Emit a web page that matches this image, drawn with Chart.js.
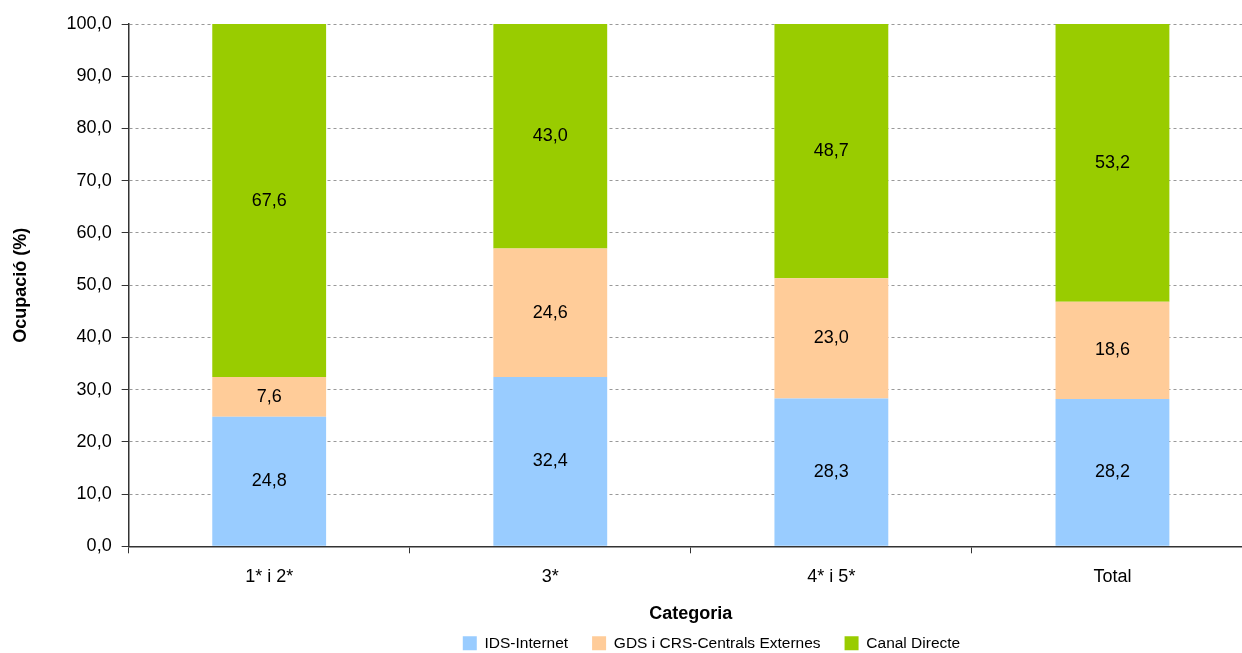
<!DOCTYPE html>
<html>
<head>
<meta charset="utf-8">
<script src="https://cdn.jsdelivr.net/npm/chart.js@4/dist/chart.umd.min.js"></script>
<style>
  html, body { margin: 0; padding: 0; background: #fff; overflow: hidden; }
  canvas { display: block; }
</style>
</head>
<body>
<canvas id="chart" width="1254" height="653" style="width:1254px;height:653px"></canvas>
<script>
// Chart data
const categories = ["1* i 2*", "3*", "4* i 5*", "Total"];
const idsInternet = [24.8, 32.4, 28.3, 28.2];
const gdsCrs = [7.6, 24.6, 23.0, 18.6];
const canalDirecte = [67.6, 43.0, 48.7, 53.2];

const FONT = "'Liberation Sans', Arial, sans-serif";
const fmt = (v) => v.toFixed(1).replace(".", ",");

// Draw the value in the middle of each segment
const segmentLabels = {
  id: "segmentLabels",
  afterDatasetsDraw(chart) {
    const ctx = chart.ctx;
    ctx.save();
    ctx.font = "18px " + FONT;
    ctx.fillStyle = "#000";
    ctx.textAlign = "center";
    ctx.textBaseline = "middle";
    chart.data.datasets.forEach((ds, i) => {
      chart.getDatasetMeta(i).data.forEach((bar, j) => {
        ctx.fillText(fmt(ds.data[j]), bar.x, (bar.y + bar.base) / 2);
      });
    });
    ctx.restore();
  }
};

// Legend sits a bit right of the canvas centre in the original
const legendShift = {
  id: "legendShift",
  afterLayout(chart) {
    chart.legend.left += 82;
    chart.legend.right += 82;
  }
};

const ctx = document.getElementById("chart").getContext("2d");
new Chart(ctx, {
  type: "bar",
  data: {
    labels: categories,
    datasets: [
      { label: "IDS-Internet", data: idsInternet, backgroundColor: "#99ccff" },
      { label: "GDS i CRS-Centrals Externes", data: gdsCrs, backgroundColor: "#ffcc99" },
      { label: "Canal Directe", data: canalDirecte, backgroundColor: "#99cc00" }
    ]
  },
  options: {
    responsive: false,
    animation: false,
    layout: { padding: { top: 24, left: 6, right: 1, bottom: -8 } },
    datasets: {
      bar: { barPercentage: 0.405, categoryPercentage: 1 }
    },
    plugins: {
      legend: {
        position: "bottom",
        labels: {
          boxWidth: 14,
          boxHeight: 14,
          padding: 24,
          color: "#000",
          font: { family: FONT, size: 15.5 }
        }
      },
      tooltip: { enabled: false }
    },
    scales: {
      x: {
        stacked: true,
        offset: true,
        grid: {
          offset: true,
          drawOnChartArea: false,
          tickLength: 7,
          tickColor: "#333"
        },
        border: { color: "#333", width: 1.5 },
        ticks: {
          color: "#000",
          padding: 13,
          font: { family: FONT, size: 18 }
        },
        title: {
          display: true,
          text: "Categoria",
          color: "#000",
          padding: { top: 2, bottom: -13 },
          font: { family: FONT, size: 18, weight: "bold" }
        }
      },
      y: {
        stacked: true,
        min: 0,
        max: 100,
        ticks: {
          stepSize: 10,
          color: "#000",
          padding: 10,
          callback: (v) => fmt(v),
          font: { family: FONT, size: 18 }
        },
        grid: {
          color: "#999",
          borderDash: [3, 3],
          tickLength: 7,
          tickColor: "#333",
          tickBorderDash: []
        },
        border: { color: "#333", width: 1.5, dash: [3, 3] },
        title: {
          display: true,
          text: "Ocupació (%)",
          color: "#000",
          padding: { bottom: 25 },
          font: { family: FONT, size: 18, weight: "bold" }
        }
      }
    }
  },
  plugins: [segmentLabels, legendShift]
});
</script>
</body>
</html>
